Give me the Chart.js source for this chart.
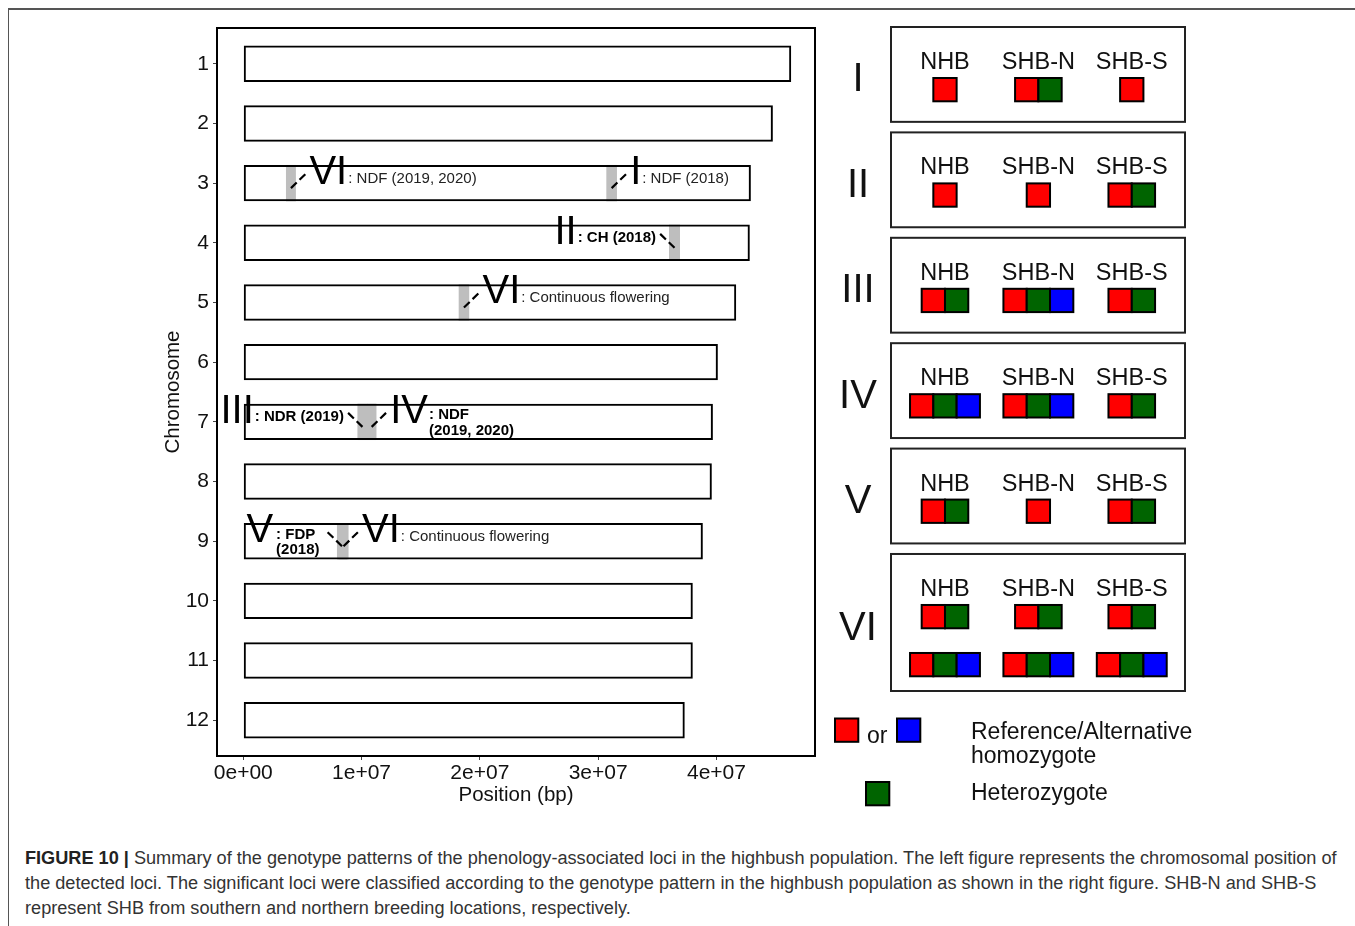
<!DOCTYPE html>
<html>
<head>
<meta charset="utf-8">
<script src="https://cdn.jsdelivr.net/npm/chart.js@4.4.1/dist/chart.umd.min.js"></script>
<style>
  html, body { margin: 0; padding: 0; background: #fff; }
  body { width: 1355px; height: 926px; position: relative; overflow: hidden;
         font-family: "Liberation Sans", Arial, sans-serif; }
  #frame { position: absolute; left: 8px; top: 8px; width: 1347px; height: 918px;
           border-top: 2px solid #555; border-left: 1.5px solid #555; box-sizing: border-box; }
  #map { position: absolute; left: 0; top: 0; }
  #panel { position: absolute; left: 830px; top: 0; }
  #caption { position: absolute; left: 25px; top: 846px; font-size: 18.15px; line-height: 25px;
             color: #333; white-space: nowrap; }
  #caption b { color: #222; }
</style>
</head>
<body>
<div id="frame"></div>
<canvas id="map" width="830" height="830"></canvas>
<canvas id="panel" width="370" height="830"></canvas>
<div id="caption"><b>FIGURE 10 |</b> Summary of the genotype patterns of the phenology-associated loci in the highbush population. The left figure represents the chromosomal position of<br>the detected loci. The significant loci were classified according to the genotype pattern in the highbush population as shown in the right figure. SHB-N and SHB-S<br>represent SHB from southern and northern breeding locations, respectively.</div>

<script>
// ---- chromosome map data ----
const chromosomes = [1, 2, 3, 4, 5, 6, 7, 8, 9, 10, 11, 12];
const chromLengths = [46.32e6, 44.77e6, 42.91e6, 42.82e6, 41.67e6, 40.12e6,
                      39.70e6, 39.61e6, 38.85e6, 38.00e6, 38.00e6, 37.32e6];
const xTickValues = [0, 1e7, 2e7, 3e7, 4e7];

// significant loci: chromosome, interval (bp), genotype-pattern class, trait
const lociChrom = [3, 3, 4, 5, 7, 7, 9, 9];
const lociStart = [3.61e6, 30.69e6, 35.99e6, 18.21e6, 9.65e6, 10.45e6, 7.92e6, 8.05e6];
const lociEnd   = [4.45e6, 31.59e6, 36.92e6, 19.10e6, 10.50e6, 11.26e6, 8.77e6, 8.90e6];
const lociClass = ['VI', 'I', 'II', 'VI', 'III', 'IV', 'V', 'VI'];
const lociTrait = [': NDF (2019, 2020)', ': NDF (2018)', ': CH (2018)', ': Continuous flowering',
                   ': NDR (2019)', ': NDF\n(2019, 2020)', ': FDP\n(2018)', ': Continuous flowering'];

// label placement for each locus (which side of the locus the label sits, bold text)
const labelSide = ['right', 'right', 'left', 'right', 'left', 'right', 'left', 'right'];
const labelBold = [false, false, true, false, true, true, true, false];

// ---- genotype pattern data (R = reference homozygote, H = heterozygote, A = alternative homozygote) ----
const patternClasses = ['I', 'II', 'III', 'IV', 'V', 'VI'];
const groups = ['NHB', 'SHB-N', 'SHB-S'];
const nhbPatterns  = [['R'],  ['R'],  ['RH'],  ['RHA'], ['RH'], ['RH', 'RHA']];
const shbNPatterns = [['RH'], ['R'],  ['RHA'], ['RHA'], ['R'],  ['RH', 'RHA']];
const shbSPatterns = [['R'],  ['RH'], ['RH'],  ['RH'],  ['RH'], ['RH', 'RHA']];
const groupPatterns = [nhbPatterns, shbNPatterns, shbSPatterns];
const genotypeColors = { R: '#ff0000', H: '#006400', A: '#0000ff' };

const FONT = '"Liberation Sans", Arial, sans-serif';
Chart.defaults.font.family = FONT;
Chart.defaults.color = '#111';

function sci(v) {
  if (v === 0) return '0e+00';
  const e = Math.floor(Math.log10(Math.abs(v)));
  const m = Math.round(v / Math.pow(10, e));
  return m + 'e+' + String(e).padStart(2, '0');
}

// frame around the plotting panel
const panelBorder = {
  id: 'panelBorder',
  afterDraw(chart) {
    const { ctx, chartArea: a } = chart;
    ctx.save();
    ctx.strokeStyle = '#000';
    ctx.lineWidth = 2;
    ctx.strokeRect(a.left, a.top, a.right - a.left, a.bottom - a.top);
    ctx.restore();
  }
};

// roman-numeral class labels, trait text and dashed leaders for each locus
const lociLabels = {
  id: 'lociLabels',
  afterDatasetsDraw(chart) {
    const { ctx, scales: { x, y } } = chart;
    ctx.save();
    lociChrom.forEach((c, i) => {
      const cy = y.getPixelForValue(c);
      const lx = x.getPixelForValue((lociStart[i] + lociEnd[i]) / 2);
      const dir = labelSide[i] === 'left' ? -1 : 1;
      const x1 = lx + dir * 16.5, y1 = cy - 11;

      ctx.setLineDash([8, 4]);
      ctx.lineWidth = 2.2;
      ctx.strokeStyle = '#000';
      ctx.beginPath();
      ctx.moveTo(lx, cy + 5);
      ctx.lineTo(x1, y1);
      ctx.stroke();
      ctx.setLineDash([]);

      const lines = lociTrait[i].split('\n');
      const numFont = '40px ' + FONT;
      const lblFont = (labelBold[i] ? 'bold ' : '') + '15px ' + FONT;
      ctx.font = lblFont;
      const lw = Math.max(...lines.map(l => ctx.measureText(l).width));
      ctx.font = numFont;
      const nw = ctx.measureText(lociClass[i]).width;
      let numX, lblX;
      if (dir > 0) { numX = x1 + 2; lblX = numX + nw + 1; }
      else { lblX = x1 - 2 - lw; numX = lblX - nw - 1; }
      if (lines.length > 1 && dir < 0) { numX -= 6; lblX -= 4; }

      ctx.fillStyle = '#000';
      ctx.textAlign = 'left';
      ctx.textBaseline = 'alphabetic';
      ctx.fillText(lociClass[i], numX, cy + 1);
      ctx.font = lblFont;
      ctx.fillStyle = labelBold[i] ? '#000' : '#222';
      ctx.textBaseline = 'middle';
      const firstY = lines.length > 1 ? cy - 6.5 : cy - 4.5;
      lines.forEach((l, k) => ctx.fillText(l, lblX, firstY + k * 15.5));
    });
    ctx.restore();
  }
};

const axisGrid = { display: true, offset: false, drawOnChartArea: false, drawTicks: true,
                   tickLength: 4, tickColor: '#444', lineWidth: 1 };

new Chart(document.getElementById('map'), {
  type: 'bar',
  data: {
    datasets: [
      {
        label: 'Chromosome',
        data: chromosomes.map((c, i) => ({ x: chromLengths[i], y: c })),
        backgroundColor: 'rgba(0,0,0,0)',
        borderColor: '#000',
        borderWidth: 2,
        borderSkipped: false,
        grouped: false,
        categoryPercentage: 1,
        barPercentage: 0.61,
        order: 0
      },
      {
        label: 'Locus',
        data: lociChrom.map((c, i) => ({ x: [lociStart[i], lociEnd[i]], y: c })),
        backgroundColor: '#bebebe',
        borderWidth: 0,
        grouped: false,
        categoryPercentage: 1,
        barPercentage: 0.61,
        order: 1
      }
    ]
  },
  options: {
    indexAxis: 'y',
    responsive: false,
    animation: false,
    events: [],
    layout: { padding: { top: 28, right: 15, left: 0, bottom: 0 } },
    plugins: { legend: { display: false }, tooltip: { enabled: false } },
    scales: {
      x: {
        type: 'linear',
        min: -2.22e6,
        max: 4.833e7,
        offset: false,
        afterBuildTicks: s => { s.ticks = xTickValues.map(v => ({ value: v })); },
        afterFit: s => { s.height = 74; },
        ticks: { callback: v => sci(v), font: { size: 21 }, color: '#111', padding: 1, maxRotation: 0, autoSkip: false },
        grid: axisGrid,
        border: { display: false },
        title: { display: true, text: 'Position (bp)', font: { size: 20.5 }, color: '#111', padding: { top: 0, bottom: 22.5 } }
      },
      y: {
        type: 'linear',
        reverse: true,
        min: 0.4,
        max: 12.6,
        offset: false,
        afterBuildTicks: s => { s.ticks = chromosomes.map(v => ({ value: v })); },
        afterFit: s => { s.width = 217; },
        ticks: { callback: v => String(v), font: { size: 21 }, color: '#111', padding: 4, autoSkip: false },
        grid: axisGrid,
        border: { display: false },
        title: { display: true, text: 'Chromosome', font: { size: 20.5 }, color: '#111', padding: { top: 161, bottom: 0 } }
      }
    }
  },
  plugins: [panelBorder, lociLabels]
});

// ---- genotype pattern panel ----
const rowCounts = patternClasses.map((_, i) => Math.max(...groupPatterns.map(p => p[i].length)));
const classHeight = rows => 0.9 + 0.4 * (rows - 1);
const classTop = rowCounts.map((_, i) => rowCounts.slice(0, i).reduce((s, r) => s + 1 + 0.4 * (r - 1), 0));
const classCenter = classTop.map((t, i) => t + classHeight(rowCounts[i]) / 2);
const panelMax = classTop[classTop.length - 1] + classHeight(rowCounts[rowCounts.length - 1]);

function drawCells(ctx, code, cx, top, cell) {
  let x0 = cx - code.length * cell / 2;
  for (const ch of code) {
    ctx.fillStyle = genotypeColors[ch];
    ctx.fillRect(x0, top, cell, cell);
    ctx.strokeStyle = '#000';
    ctx.lineWidth = 2;
    ctx.strokeRect(x0, top, cell, cell);
    x0 += cell;
  }
}

const genotypePanel = {
  id: 'genotypePanel',
  afterDraw(chart) {
    const { ctx, chartArea: a, scales: { x, y } } = chart;
    const cell = 23.3;
    ctx.save();
    patternClasses.forEach((cls, i) => {
      const top = y.getPixelForValue(classTop[i]);
      const bottom = y.getPixelForValue(classTop[i] + classHeight(rowCounts[i]));
      ctx.strokeStyle = '#222';
      ctx.lineWidth = 2;
      ctx.strokeRect(a.left, top, a.right - a.left, bottom - top);

      // class numeral, centred in the margin left of the box
      ctx.fillStyle = '#111';
      ctx.font = '40px ' + FONT;
      ctx.textAlign = 'center';
      ctx.textBaseline = 'middle';
      ctx.fillText(cls, a.left - 33, y.getPixelForValue(classCenter[i]) + 6);

      groups.forEach((g, j) => {
        const gx = x.getPixelForValue(j);
        ctx.fillStyle = '#111';
        ctx.font = '23.5px ' + FONT;
        ctx.textAlign = 'center';
        ctx.textBaseline = 'alphabetic';
        ctx.fillText(g, gx, top + 42);
        groupPatterns[j][i].forEach((code, r) => drawCells(ctx, code, gx, top + 51 + r * 48, cell));
      });
    });

    // key
    const lx = 5, ly = 718.5;
    drawCells(ctx, 'R', lx + cell / 2, ly, cell);
    drawCells(ctx, 'A', lx + 62 + cell / 2, ly, cell);
    drawCells(ctx, 'H', lx + 31 + cell / 2, 782, cell);
    ctx.fillStyle = '#111';
    ctx.font = '23px ' + FONT;
    ctx.textAlign = 'left';
    ctx.textBaseline = 'alphabetic';
    ctx.fillText('or', 37, 742.5);
    ctx.fillText('Reference/Alternative', 141, 739);
    ctx.fillText('homozygote', 141, 763);
    ctx.fillText('Heterozygote', 141, 800);
    ctx.restore();
  }
};

new Chart(document.getElementById('panel'), {
  type: 'scatter',
  data: { datasets: [] },
  options: {
    responsive: false,
    animation: false,
    events: [],
    layout: { padding: { top: 27, right: 15, left: 61, bottom: 139 } },
    plugins: { legend: { display: false }, tooltip: { enabled: false } },
    scales: {
      x: { type: 'linear', min: -0.578, max: 2.57, display: false },
      y: { type: 'linear', reverse: true, min: 0, max: panelMax, display: false }
    }
  },
  plugins: [genotypePanel]
});
</script>
</body>
</html>
